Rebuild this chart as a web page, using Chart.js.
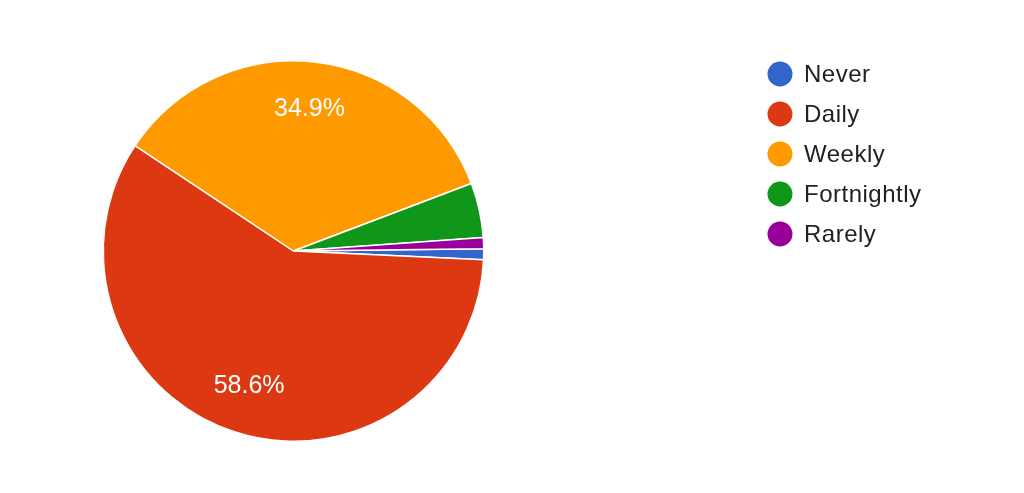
<!DOCTYPE html>
<html>
<head>
<meta charset="utf-8">
<script src="https://cdn.jsdelivr.net/npm/chart.js@4"></script>
<style>
  html, body { margin: 0; padding: 0; background: #fff; }
  #wrap { width: 1024px; height: 493px; position: relative; }
</style>
</head>
<body>
<div id="wrap"><canvas id="mycanvas"></canvas></div>
<script>
// answers counted per option
var categories = ['Never', 'Daily', 'Weekly', 'Fortnightly', 'Rarely'];
var counts = [2, 126, 75, 10, 2];
var colors = ['#3366CC', '#DC3912', '#FF9900', '#109618', '#990099'];

var total = counts.reduce(function(a, b) { return a + b; }, 0);

// percentage text inside the bigger slices
var sliceLabels = {
    id: 'sliceLabels',
    afterDatasetsDraw: function(chart) {
        var ctx = chart.ctx;
        var meta = chart.getDatasetMeta(0);
        ctx.save();
        ctx.fillStyle = '#fff';
        ctx.font = '25px Arial, "Liberation Sans", sans-serif';
        ctx.textAlign = 'center';
        ctx.textBaseline = 'middle';
        meta.data.forEach(function(arc, i) {
            var pct = counts[i] / total * 100;
            if (pct < 10) return;
            var mid = (arc.startAngle + arc.endAngle) / 2;
            var r = arc.outerRadius * 0.75;
            ctx.fillText(pct.toFixed(1) + '%', arc.x + Math.cos(mid) * r, arc.y + Math.sin(mid) * r);
        });
        ctx.restore();
    }
};

// legend in the top right, dots and names
var sideLegend = {
    id: 'sideLegend',
    afterDraw: function(chart) {
        var ctx = chart.ctx;
        ctx.save();
        ctx.font = '24px Arial, "Liberation Sans", sans-serif';
        ctx.letterSpacing = '0.5px';
        ctx.textBaseline = 'middle';
        ctx.textAlign = 'left';
        categories.forEach(function(name, i) {
            var y = 74 + i * 40;
            ctx.beginPath();
            ctx.arc(780, y, 12.5, 0, Math.PI * 2);
            ctx.fillStyle = colors[i];
            ctx.fill();
            ctx.fillStyle = '#222';
            ctx.fillText(name, 804, y + 1);
        });
        ctx.restore();
    }
};

var chartdata = {
    labels: categories,
    datasets: [{
        data: counts,
        backgroundColor: colors,
        borderColor: '#fff',
        borderWidth: 1.5,
        hoverOffset: 0
    }]
};

var pie = new Chart(document.getElementById('mycanvas'), {
    type: 'pie',
    data: chartdata,
    options: {
        responsive: true,
        maintainAspectRatio: false,
        animation: false,
        rotation: 89.3,
        layout: { padding: { left: 102, right: 539, top: 60, bottom: 51 } },
        plugins: {
            legend: { display: false },
            tooltip: { enabled: false }
        }
    },
    plugins: [sliceLabels, sideLegend]
});
</script>
</body>
</html>
